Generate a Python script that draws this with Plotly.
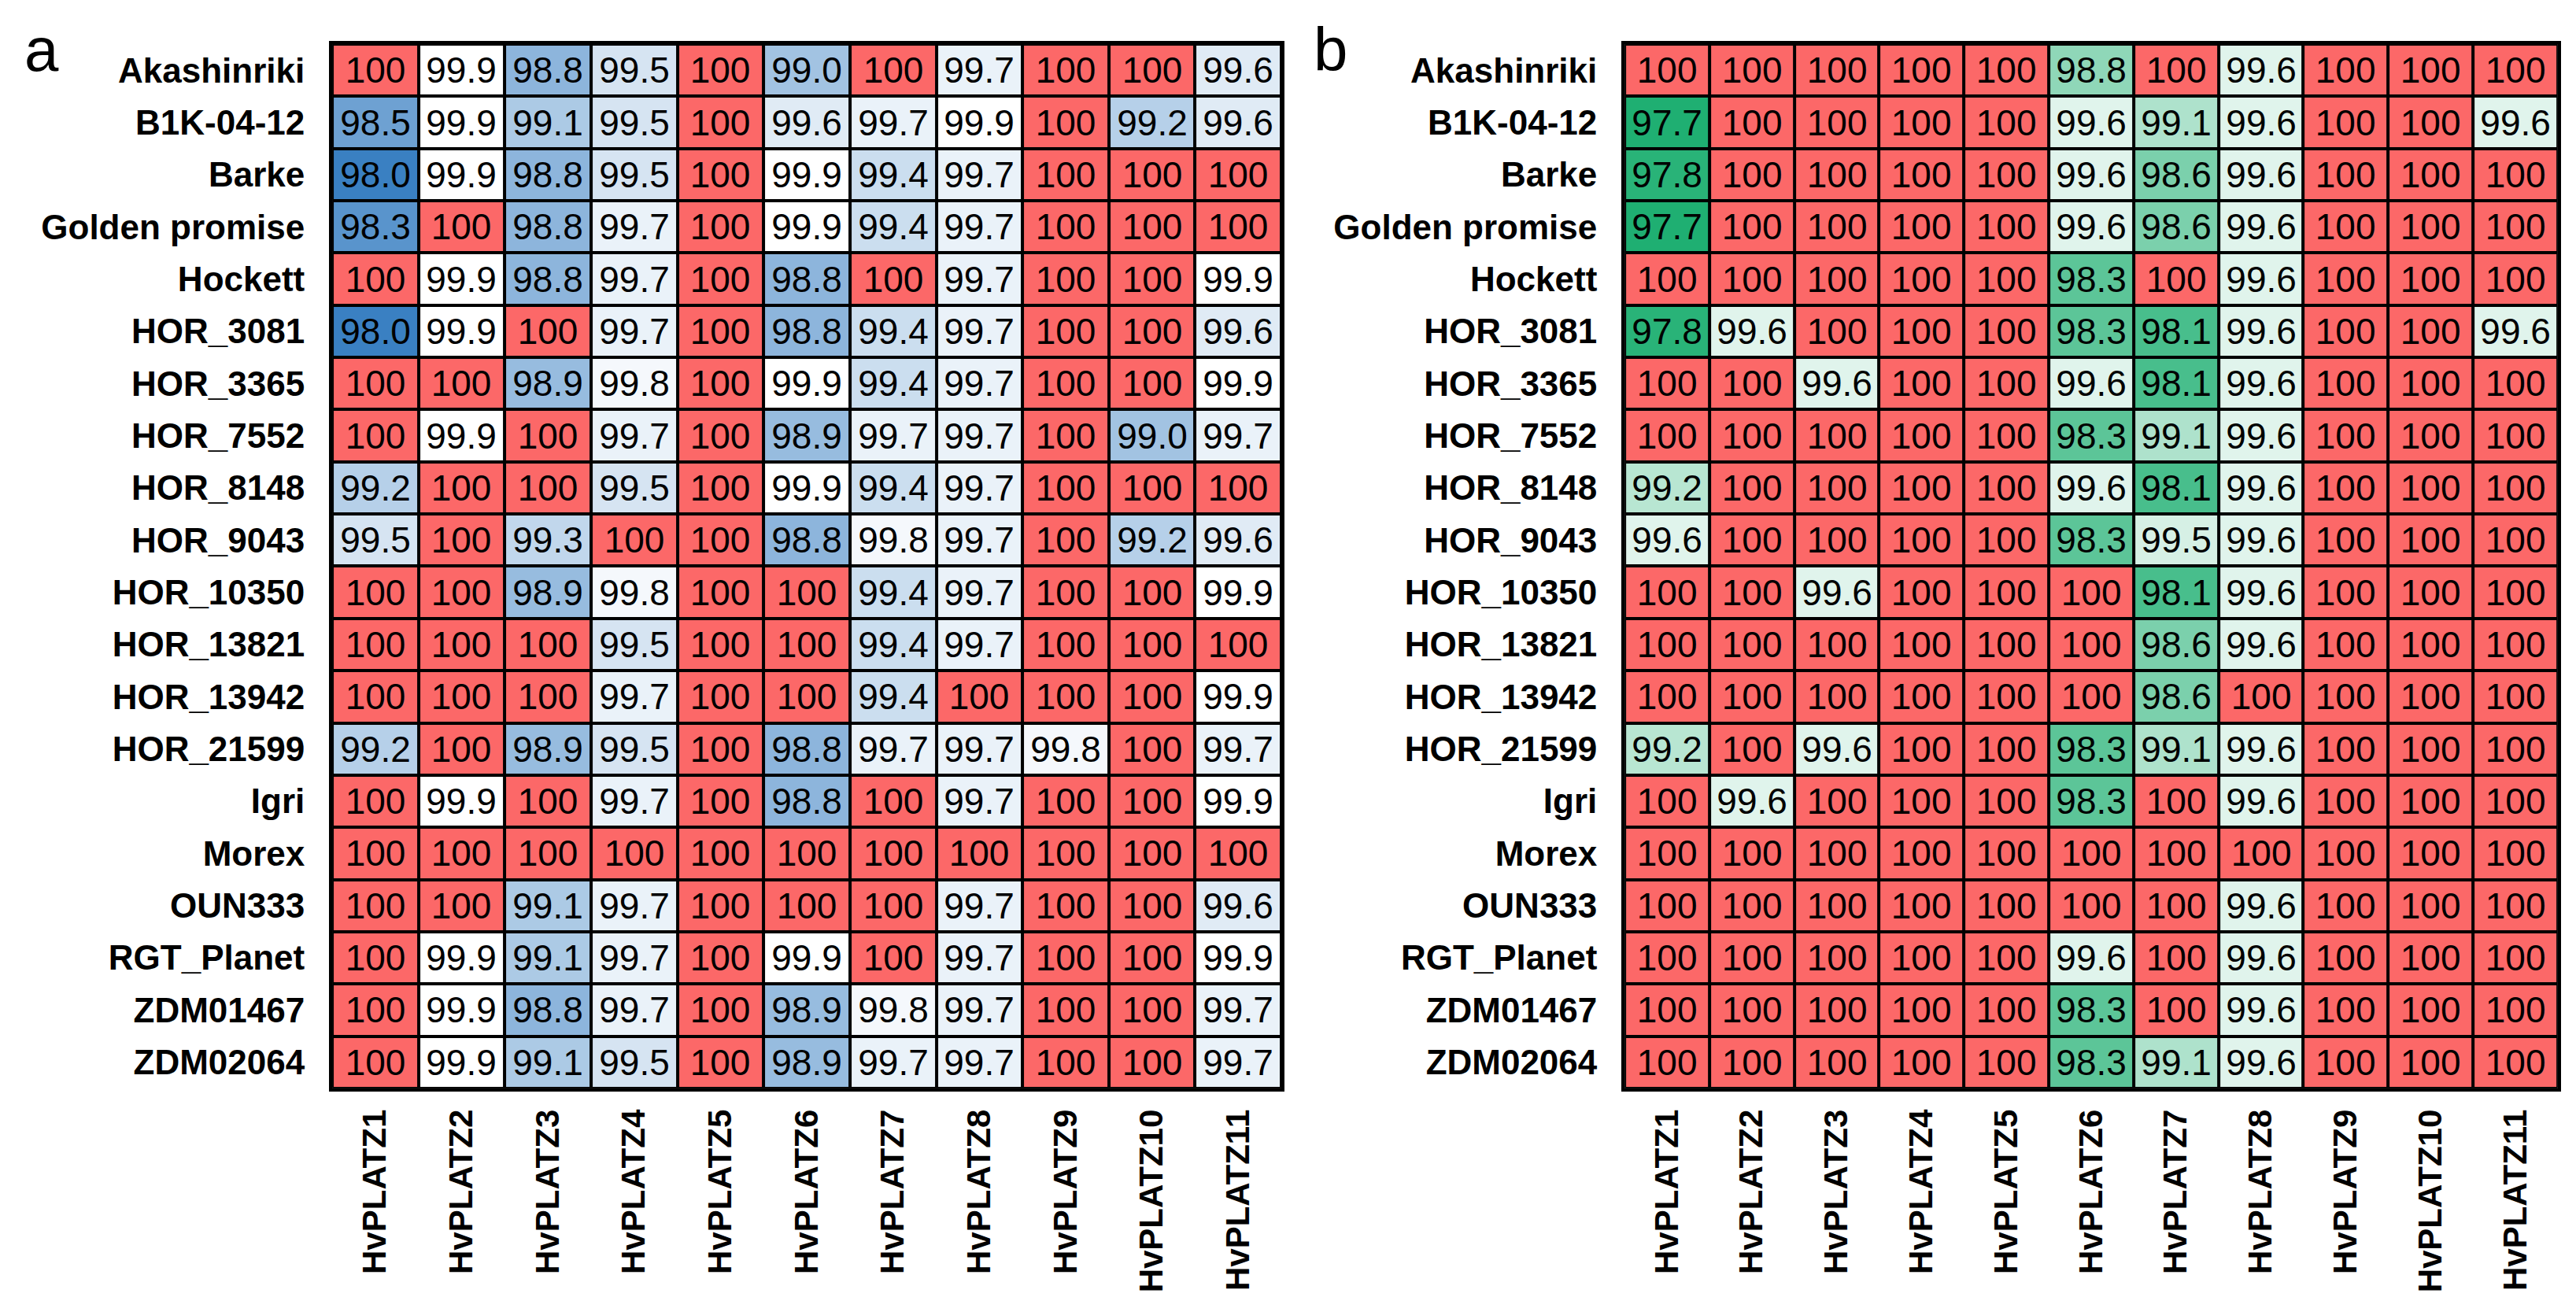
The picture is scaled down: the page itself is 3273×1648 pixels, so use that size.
import plotly.graph_objects as go

genotypes = ["Akashinriki", "B1K-04-12", "Barke", "Golden promise", "Hockett",
             "HOR_3081", "HOR_3365", "HOR_7552", "HOR_8148", "HOR_9043",
             "HOR_10350", "HOR_13821", "HOR_13942", "HOR_21599", "Igri",
             "Morex", "OUN333", "RGT_Planet", "ZDM01467", "ZDM02064"]
genes = ["HvPLATZ1", "HvPLATZ2", "HvPLATZ3", "HvPLATZ4", "HvPLATZ5", "HvPLATZ6",
         "HvPLATZ7", "HvPLATZ8", "HvPLATZ9", "HvPLATZ10", "HvPLATZ11"]

# Panel a values (rows = genotypes, cols = genes)
values_a = [
    [100, 99.9, 98.8, 99.5, 100, 99.0, 100, 99.7, 100, 100, 99.6],
    [98.5, 99.9, 99.1, 99.5, 100, 99.6, 99.7, 99.9, 100, 99.2, 99.6],
    [98.0, 99.9, 98.8, 99.5, 100, 99.9, 99.4, 99.7, 100, 100, 100],
    [98.3, 100, 98.8, 99.7, 100, 99.9, 99.4, 99.7, 100, 100, 100],
    [100, 99.9, 98.8, 99.7, 100, 98.8, 100, 99.7, 100, 100, 99.9],
    [98.0, 99.9, 100, 99.7, 100, 98.8, 99.4, 99.7, 100, 100, 99.6],
    [100, 100, 98.9, 99.8, 100, 99.9, 99.4, 99.7, 100, 100, 99.9],
    [100, 99.9, 100, 99.7, 100, 98.9, 99.7, 99.7, 100, 99.0, 99.7],
    [99.2, 100, 100, 99.5, 100, 99.9, 99.4, 99.7, 100, 100, 100],
    [99.5, 100, 99.3, 100, 100, 98.8, 99.8, 99.7, 100, 99.2, 99.6],
    [100, 100, 98.9, 99.8, 100, 100, 99.4, 99.7, 100, 100, 99.9],
    [100, 100, 100, 99.5, 100, 100, 99.4, 99.7, 100, 100, 100],
    [100, 100, 100, 99.7, 100, 100, 99.4, 100, 100, 100, 99.9],
    [99.2, 100, 98.9, 99.5, 100, 98.8, 99.7, 99.7, 99.8, 100, 99.7],
    [100, 99.9, 100, 99.7, 100, 98.8, 100, 99.7, 100, 100, 99.9],
    [100, 100, 100, 100, 100, 100, 100, 100, 100, 100, 100],
    [100, 100, 99.1, 99.7, 100, 100, 100, 99.7, 100, 100, 99.6],
    [100, 99.9, 99.1, 99.7, 100, 99.9, 100, 99.7, 100, 100, 99.9],
    [100, 99.9, 98.8, 99.7, 100, 98.9, 99.8, 99.7, 100, 100, 99.7],
    [100, 99.9, 99.1, 99.5, 100, 98.9, 99.7, 99.7, 100, 100, 99.7],
]

# Panel b values
values_b = [
    [100, 100, 100, 100, 100, 98.8, 100, 99.6, 100, 100, 100],
    [97.7, 100, 100, 100, 100, 99.6, 99.1, 99.6, 100, 100, 99.6],
    [97.8, 100, 100, 100, 100, 99.6, 98.6, 99.6, 100, 100, 100],
    [97.7, 100, 100, 100, 100, 99.6, 98.6, 99.6, 100, 100, 100],
    [100, 100, 100, 100, 100, 98.3, 100, 99.6, 100, 100, 100],
    [97.8, 99.6, 100, 100, 100, 98.3, 98.1, 99.6, 100, 100, 99.6],
    [100, 100, 99.6, 100, 100, 99.6, 98.1, 99.6, 100, 100, 100],
    [100, 100, 100, 100, 100, 98.3, 99.1, 99.6, 100, 100, 100],
    [99.2, 100, 100, 100, 100, 99.6, 98.1, 99.6, 100, 100, 100],
    [99.6, 100, 100, 100, 100, 98.3, 99.5, 99.6, 100, 100, 100],
    [100, 100, 99.6, 100, 100, 100, 98.1, 99.6, 100, 100, 100],
    [100, 100, 100, 100, 100, 100, 98.6, 99.6, 100, 100, 100],
    [100, 100, 100, 100, 100, 100, 98.6, 100, 100, 100, 100],
    [99.2, 100, 99.6, 100, 100, 98.3, 99.1, 99.6, 100, 100, 100],
    [100, 99.6, 100, 100, 100, 98.3, 100, 99.6, 100, 100, 100],
    [100, 100, 100, 100, 100, 100, 100, 100, 100, 100, 100],
    [100, 100, 100, 100, 100, 100, 100, 99.6, 100, 100, 100],
    [100, 100, 100, 100, 100, 99.6, 100, 99.6, 100, 100, 100],
    [100, 100, 100, 100, 100, 98.3, 100, 99.6, 100, 100, 100],
    [100, 100, 100, 100, 100, 98.3, 99.1, 99.6, 100, 100, 100],
]

RED = "#FC6868"
BLUE = "#3A80C2"
GREEN = "#1FAF72"
FONT = "Arial, Liberation Sans, sans-serif"


def fmt(rows):
    return [["100" if v == 100 else f"{v:.1f}" for v in r] for r in rows]


def scale(zmin, low_color):
    span = 100.0 - zmin
    w = (99.9 - zmin) / span
    cut = (99.95 - zmin) / span
    return [[0.0, low_color], [w, "#FFFFFF"], [cut, "#FFFFFF"], [cut, RED], [1.0, RED]]


fig = go.Figure()
fig.add_trace(go.Heatmap(
    z=values_a, x=genes, y=genotypes, text=fmt(values_a), texttemplate="%{text}",
    textfont=dict(family=FONT, size=46, color="black"),
    zmin=98.0, zmax=100.0, colorscale=scale(98.0, BLUE), showscale=False,
    xgap=4, ygap=4, hoverinfo="skip", xaxis="x", yaxis="y"))
fig.add_trace(go.Heatmap(
    z=values_b, x=genes, y=genotypes, text=fmt(values_b), texttemplate="%{text}",
    textfont=dict(family=FONT, size=46, color="black"),
    zmin=97.7, zmax=100.0, colorscale=scale(97.7, GREEN), showscale=False,
    xgap=4, ygap=4, hoverinfo="skip", xaxis="x2", yaxis="y2"))

ydom = [0.1657, 0.9709]
xcommon = dict(tickangle=-90, tickfont=dict(family=FONT, size=42, color="black", weight="bold"),
               showline=True, linecolor="black", linewidth=4, mirror=True,
               showgrid=False, zeroline=False, ticks="", ticklabelstandoff=6,
               automargin=False, fixedrange=True)
ycommon = dict(autorange="reversed", tickfont=dict(family=FONT, size=44, color="black", weight="bold"),
               showline=True, linecolor="black", linewidth=4, mirror=True,
               showgrid=False, zeroline=False, ticks="", ticklabelstandoff=22,
               automargin=False, fixedrange=True, domain=ydom)

fig.update_layout(
    width=3273, height=1648,
    margin=dict(l=0, r=0, t=0, b=0),
    paper_bgcolor="white", plot_bgcolor="black",
    xaxis=dict(domain=[0.1265, 0.4950], anchor="y", **xcommon),
    xaxis2=dict(domain=[0.6282, 0.9905], anchor="y2", **xcommon),
    yaxis=dict(anchor="x", **ycommon),
    yaxis2=dict(anchor="x2", **ycommon),
    annotations=[
        dict(text="a", x=0.0137, y=0.9666, xref="paper", yref="paper",
             xanchor="center", yanchor="middle", showarrow=False,
             font=dict(family=FONT, size=78, color="black")),
        dict(text="b", x=0.5142, y=0.9666, xref="paper", yref="paper",
             xanchor="center", yanchor="middle", showarrow=False,
             font=dict(family=FONT, size=78, color="black")),
    ],
)

fig.write_html("out.html")
